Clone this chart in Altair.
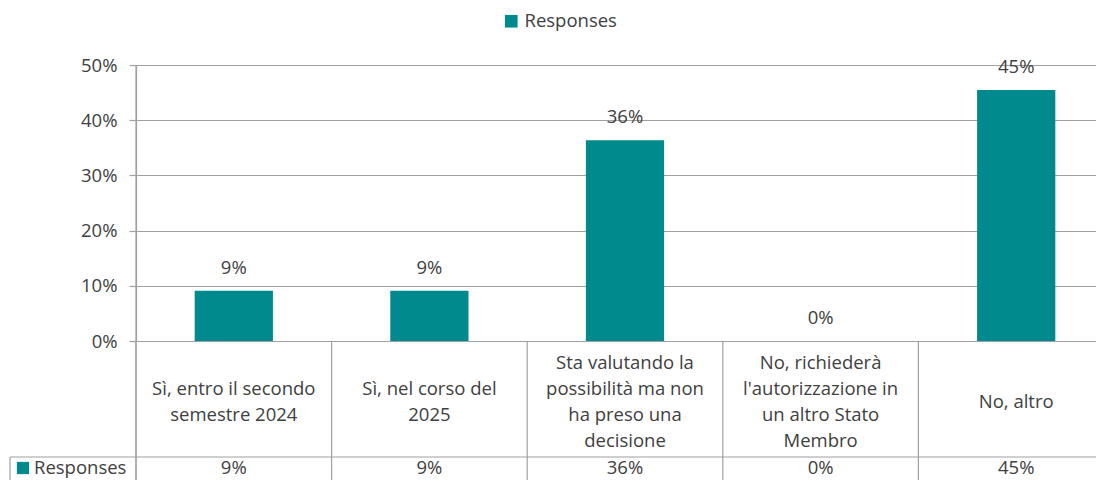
import altair as alt
import pandas as pd

categories = ["c1", "c2", "c3", "c4", "c5"]
labels = [
    "Sì, entro il secondo\nsemestre 2024",
    "Sì, nel corso del\n2025",
    "Sta valutando la\npossibilità ma non\nha preso una\ndecisione",
    "No, richiederà\nl'autorizzazione in\nun altro Stato\nMembro",
    "No, altro",
]
values = [1 / 11, 1 / 11, 4 / 11, 0.0, 5 / 11]
series = "Responses"

df = pd.DataFrame({"cat": categories, "label": labels, "value": values, "series": series})
df["nlines"] = df["label"].str.count("\n") + 1

TEAL = "#008A8E"
GRID = "#a0a0a0"
TXT = "#404040"
FONT = "Open Sans"
FS = 18.5
LH = 26

xscale = alt.Scale(range=[0, 978], paddingInner=0, paddingOuter=0)
xenc = alt.X("cat:N", sort=categories, axis=None, scale=xscale)
yscale = alt.Scale(domain=[0, 0.5], nice=False)

base = alt.Chart(df)

bars = base.mark_bar(width=alt.RelativeBandSize(0.4)).encode(
    x=xenc,
    y=alt.Y("value:Q", scale=yscale,
            axis=alt.Axis(values=[0, 0.1, 0.2, 0.3, 0.4, 0.5], format=".0%", title=None,
                          grid=True, gridColor=GRID, gridWidth=1.2,
                          domainColor=GRID, domainWidth=1.2, tickColor=GRID, tickWidth=1.2,
                          tickSize=7, labelPadding=12, labelFont=FONT, labelFontSize=FS,
                          labelColor=TXT)),
    color=alt.Color("series:N", scale=alt.Scale(domain=[series], range=[TEAL]),
                    legend=alt.Legend(orient="none", legendX=366, legendY=-53, title=None,
                                      symbolType="square", symbolSize=160, symbolStrokeWidth=0,
                                      labelFont=FONT, labelFontSize=FS, labelColor=TXT,
                                      labelOffset=4)),
)

bar_labels = base.mark_text(baseline="alphabetic", dy=-17, font=FONT, fontSize=FS, color=TXT).encode(
    x=xenc,
    y=alt.Y("value:Q", scale=yscale),
    text=alt.Text("value:Q", format=".0%"),
)

cat_layers = []
for n in [1, 2, 4]:
    cat_layers.append(
        base.transform_filter(alt.datum.nlines == n)
        .mark_text(baseline="middle", lineBreak="\n", lineHeight=LH, font=FONT,
                   fontSize=FS, color=TXT)
        .encode(x=xenc, y=alt.value(337 - (n - 1) * LH / 2), text="label:N")
    )

val_text = base.mark_text(baseline="middle", font=FONT, fontSize=FS, color=TXT).encode(
    x=xenc, y=alt.value(403), text=alt.Text("value:Q", format=".0%"))

dividers = base.mark_rule(color=GRID, strokeWidth=1.2).encode(
    x=alt.X("cat:N", sort=categories, axis=None, bandPosition=0, scale=xscale),
    y=alt.value(276), y2=alt.value(440))

one = pd.DataFrame({"a": [0]})
vline = alt.Chart(one).mark_rule(color=GRID, strokeWidth=1.2).encode(
    x=alt.value(0), y=alt.value(0), y2=alt.value(440))

row_line = alt.Chart(one).mark_rule(color=GRID, strokeWidth=1.2).encode(
    x=alt.value(-126), x2=alt.value(990), y=alt.value(392))

left_line = alt.Chart(one).mark_rule(color=GRID, strokeWidth=1.2).encode(
    x=alt.value(-126), y=alt.value(392), y2=alt.value(440))

head = pd.DataFrame({"series": [series]})
row_sym = alt.Chart(head).mark_square(size=150, opacity=1, color=TEAL).encode(
    x=alt.value(-113), y=alt.value(403))
row_txt = alt.Chart(head).mark_text(align="left", baseline="middle", font=FONT, fontSize=FS,
                                    color=TXT).encode(
    x=alt.value(-102), y=alt.value(403), text="series:N")

chart = alt.layer(bars, bar_labels, *cat_layers, val_text, dividers, vline, row_line, left_line,
                  row_sym, row_txt).properties(
    width=960, height=276,
    autosize=alt.AutoSizeParams(type="none"),
    padding={"left": 128, "top": 57, "right": 0, "bottom": 139},
).configure_view(stroke=None)

chart.save("out.html", embed_options={"renderer": "svg", "actions": False})
